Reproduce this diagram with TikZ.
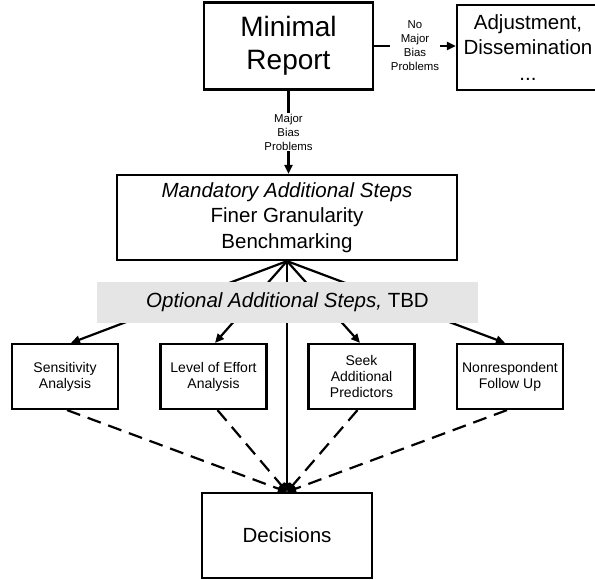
\documentclass[tikz,border=0pt]{standalone}
\usepackage{fontspec}
\setmainfont{Liberation Sans}
\usetikzlibrary{arrows.meta}
\begin{document}
\begin{tikzpicture}[x=1pt,y=-1pt,
  box/.style={draw, line width=2.2pt, rectangle, align=center, inner sep=0pt},
  small/.style={box, minimum width=106pt, minimum height=65pt, font=\fontsize{14}{16}\selectfont},
  arr/.style={line width=2.2pt, -{Triangle[length=9pt,width=8pt]}},
  dasharr/.style={arr, dash pattern=on 14pt off 8pt},
  lbl/.style={fill=white, align=center, font=\fontsize{11.4}{14}\selectfont, inner sep=1pt},
  band/.style={fill=gray!20, minimum width=381pt, minimum height=41pt, inner sep=0pt, font=\fontsize{20.5}{25.5}\selectfont}
]
\useasboundingbox (0,0) rectangle (595,579);
\clip (0,0) rectangle (595,579);
\node[box, minimum width=169pt, minimum height=87pt, font=\fontsize{28}{33}\selectfont] (min) at (288.5,46) {Minimal\\Report};
\node[box, minimum width=142pt, minimum height=85pt, font=\fontsize{20.5}{25.5}\selectfont] (adj) at (528,47.5) {Adjustment,\\Dissemination\\...};
\node[box, minimum width=340pt, minimum height=85pt, font=\fontsize{20.5}{25.5}\selectfont] (mand) at (287,217.5) {\textit{Mandatory Additional Steps}\\Finer Granularity\\Benchmarking};
\node[small] (sens) at (65,376.5) {Sensitivity\\Analysis};
\node[small] (lev) at (213.5,376.5) {Level of Effort\\Analysis};
\node[small] (seek) at (361.5,376.5) {Seek\\Additional\\Predictors};
\node[small] (non) at (510,376.5) {Nonrespondent\\Follow Up};
\node[box, minimum width=170pt, minimum height=85pt, font=\fontsize{20.5}{25.5}\selectfont] (dec) at (287,535.5) {Decisions};

\draw[arr] (min.east) -- node[lbl]{No\\Major\\Bias\\Problems} (adj.west |- min.east);
\draw[arr] (min.south) -- node[lbl]{Major\\Bias\\Problems} (min.south |- mand.north);

\draw[arr] (mand.south) -- ([xshift=6pt]sens.north);
\draw[arr] (mand.south) -- ([xshift=1.5pt]lev.north);
\draw[arr] (mand.south) -- ([xshift=-1.5pt]seek.north);
\draw[arr] (mand.south) -- ([xshift=-5pt]non.north);
\draw[arr] (mand.south) -- (dec.north);

\node[band] (opt) at (287.5,302.5) {\textit{Optional Additional Steps,} TBD};

\draw[dasharr] ([xshift=2pt]sens.south) -- (dec.north);
\draw[dasharr] ([xshift=4pt]lev.south) -- (dec.north);
\draw[dasharr] ([xshift=-4pt]seek.south) -- (dec.north);
\draw[dasharr] ([xshift=-3pt]non.south) -- (dec.north);
\end{tikzpicture}
\end{document}
